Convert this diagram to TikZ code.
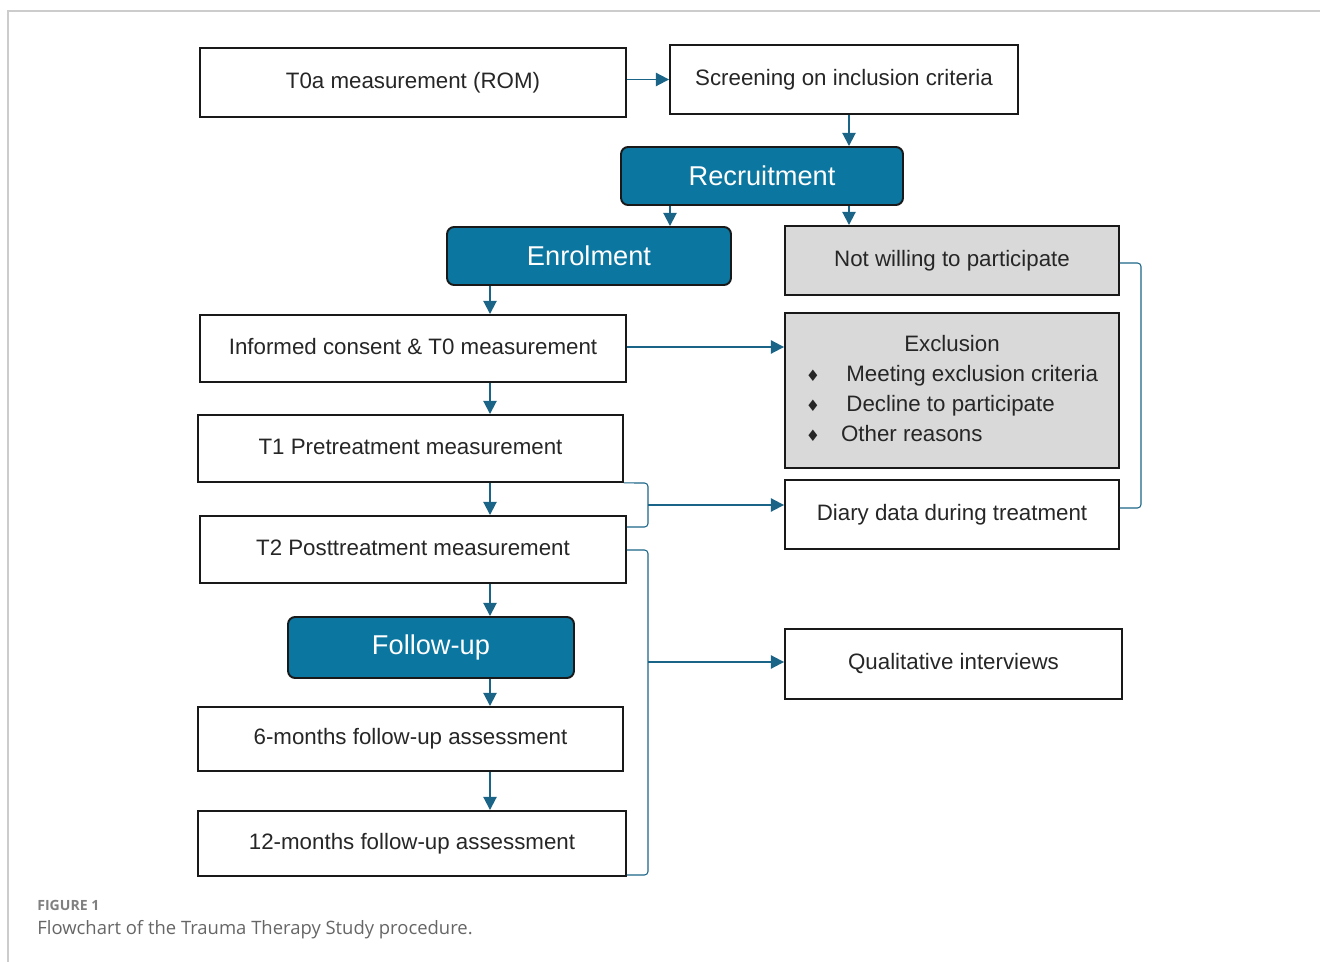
\documentclass[tikz,border=0pt]{standalone}
\usepackage{fontspec}
\setmainfont{Liberation Sans}
\newfontfamily\capfont{Open Sans}
\newfontfamily\symfont{DejaVu Sans}
\usetikzlibrary{
  	positioning,
  	arrows.meta,
  	calc
  }
\definecolor{teal}{HTML}{0B76A0}
\definecolor{arrowblue}{HTML}{1A6587}
\definecolor{boxgrey}{HTML}{D9D9D9}
\definecolor{framegrey}{HTML}{CCCCCC}

\begin{document}
\begin{tikzpicture}[x=.02cm, y=-.02cm,
  every node/.style={font=\fontsize{12.7}{15}\selectfont, text=black!85, inner sep=0pt},
  stage/.style={draw=black!90, line width=1.1pt, minimum width=8.52cm, minimum height=1.34cm,
    text height=.88em, text depth=.2em},
  phase/.style={draw=black!90, line width=1.1pt, fill=teal, rounded corners=4pt, minimum height=1.16cm,
    text=white, font=\fontsize{15.5}{18}\selectfont},
  outcome/.style={stage, minimum width=6.68cm, minimum height=1.38cm},
  excl/.style={outcome, fill=boxgrey},
  arr/.style={draw=arrowblue, line width=1.1pt, -{Triangle[length=7.5pt,width=7.5pt]}},
  brace/.style={draw=arrowblue, line width=.6pt, rounded corners=2pt}]
	\useasboundingbox (0,0) rectangle (1320,962);
	\draw[framegrey, line width=.6pt] (8,962) -- (8,11) -- (1320,11);
%
	\node[stage, minimum height=1.38cm] (T0a) at (413,82.5) {T0a measurement (ROM)};
	\node[outcome, minimum width=6.96cm] (Screen) at (844,79.5) {Screening on inclusion criteria};
	\node[phase, minimum width=5.64cm] (Recr) at (762,176) {Recruitment};
	\node[phase, minimum width=5.68cm] (Enrol) at (589,256) {Enrolment};
	\node[excl] (Notw) at (952,260.5) {Not willing to participate};
%
	\node[stage] (Cons) at (413,348.5) {Informed consent \& T0 measurement};
	\node[excl, minimum height=3.1cm, text height=, text depth=] (Excl) at (952,390.5) {%
		\fontsize{12.7}{17.2}\selectfont
		\begin{tabular}{@{}l@{\hspace{12pt}}l@{}}
		\multicolumn{2}{c}{Exclusion}\\[0pt]
		{\symfont\small ♦} & \hspace{3pt}Meeting exclusion criteria\\[0pt]
		{\symfont\small ♦} & \hspace{3pt}Decline to participate\\[0pt]
		{\symfont\small ♦} & Other reasons
		\end{tabular}};
	\node[stage, minimum width=8.5cm] (T1) at (410.5,448.5) {T1 Pretreatment measurement};
	\node[outcome] (Diary) at (952,514.5) {Diary data during treatment};
	\node[stage] (T2) at (413,549.5) {T2 Posttreatment measurement};
%
	\node[phase, minimum width=5.72cm, minimum height=1.22cm] (Fup) at (431,647.5) {Follow-up};
	\node[outcome, minimum width=6.74cm, minimum height=1.4cm] (Qual) at (953.5,664) {Qualitative interviews};
	\node[stage, minimum width=8.5cm, minimum height=1.28cm] (M6) at (410.5,739) {6-months follow-up assessment};
	\node[stage, minimum width=8.56cm, minimum height=1.3cm] (M12) at (412,843.5) {12-months follow-up assessment};
%
	\coordinate (lx) at (670,0);
	\coordinate (rx) at (849,0);
	\coordinate (mx) at (490,0);
	\coordinate (b1) at (648,505);
	\coordinate (b2) at (648,662);
%
	\draw[arr] (T0a.east |- Screen) -- (Screen.west);
	\draw[arr] (Screen.south -| rx) -- (Recr.north -| rx);
	\draw[arr] (Recr.south -| lx) -- (Enrol.north -| lx);
	\draw[arr] (Recr.south -| rx) -- (Notw.north -| rx);
	\draw[arr] (Enrol.south -| mx) -- (Cons.north -| mx);
	\draw[arr] (Cons.east |- 0,347) -- (Excl.west |- 0,347);
	\draw[arr] (Cons.south -| mx) -- (T1.north -| mx);
	\draw[arr] (T1.south -| mx) -- (T2.north -| mx);
	\draw[arr] (T2.south -| mx) -- (Fup.north -| mx);
	\draw[arr] (Fup.south -| mx) -- (M6.north -| mx);
	\draw[arr] (M6.south -| mx) -- (M12.north -| mx);
%
	\draw[brace] (T1.south east) -- (648,483) -- (648,527) -- (T2.east |- 0,527);
	\draw[brace] (T2.east |- 0,550) -- (648,550) -- (648,875) -- (M12.east |- 0,875);
	\draw[brace] (Notw.east |- 0,263) -- (1141,263) -- (1141,508) -- (Diary.east |- 0,508);
	\draw[arr] (b1) -- (b1 -| Diary.west);
	\draw[arr] (b2) -- (b2 -| Qual.west);
%
	\node[anchor=base west, font=\capfont\bfseries\fontsize{8}{10}\selectfont, text=black!50] (fig) at (37,911) {FIGURE 1};
	\node[anchor=base west, font=\capfont\fontsize{10.5}{12}\selectfont, text=black!60] (cap) at (37,935) {Flowchart of the Trauma Therapy Study procedure.};
\end{tikzpicture}
\end{document}
